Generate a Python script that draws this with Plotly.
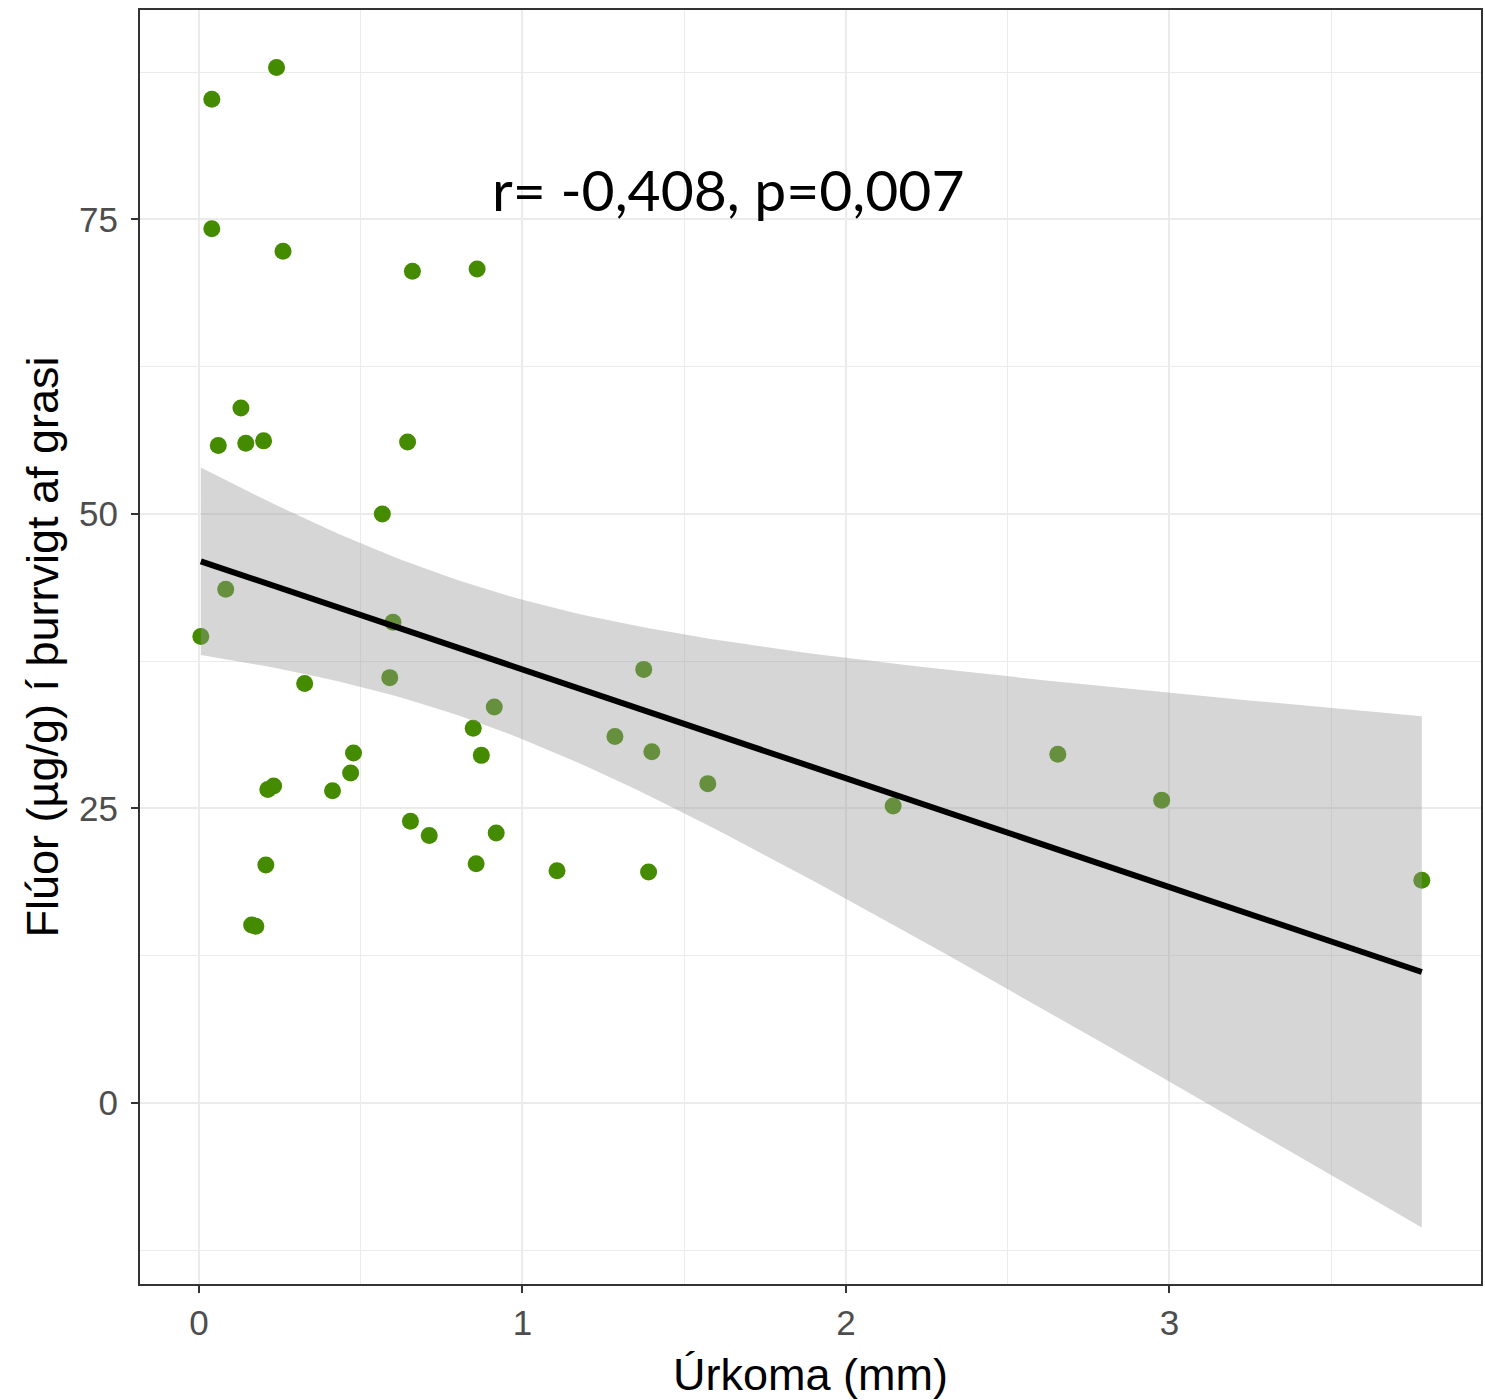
import numpy as np
import plotly.graph_objects as go

# Data
rain_mm = [0.04, 0.24, 0.04, 0.26, 0.66, 0.86, 0.13, 0.06, 0.145, 0.20, 0.645,
           0.567, 0.083, 0.006, 0.60, 0.59, 0.327, 1.375, 0.913, 0.848, 1.286,
           1.40, 0.478, 0.873, 0.469, 2.655, 1.573, 0.231, 0.213, 0.413, 2.146,
           2.976, 0.654, 0.712, 0.919, 0.207, 0.857, 1.107, 1.39, 3.78, 0.163, 0.176]
fluor_ug_g = [85.2, 87.9, 74.2, 72.3, 70.6, 70.8, 59.0, 55.8, 56.0, 56.2, 56.1,
              50.0, 43.6, 39.6, 40.8, 36.1, 35.6, 36.8, 33.6, 31.8, 31.1,
              29.8, 29.7, 29.5, 28.0, 29.6, 27.1, 26.9, 26.6, 26.5, 25.2,
              25.7, 23.9, 22.7, 22.9, 20.2, 20.3, 19.7, 19.6, 18.9, 15.1, 15.0]
x_ticks = [0, 1, 2, 3]
y_ticks = [0, 25, 50, 75]
annotation_text = "r= -0,408, p=0,007"
x_title = "Úrkoma (mm)"
y_title = "Flúor (µg/g) í þurrvigt af grasi"

# Linear model fit with 95% confidence band (as geom_smooth(method="lm"))
x = np.array(rain_mm)
y = np.array(fluor_ug_g)
n = len(x)
slope, intercept = np.polyfit(x, y, 1)
resid = y - (intercept + slope * x)
s = np.sqrt((resid ** 2).sum() / (n - 2))
xbar = x.mean()
sxx = ((x - xbar) ** 2).sum()
xg = np.linspace(x.min(), x.max(), 80)
yg = intercept + slope * xg
t_crit = 2.021
half = t_crit * s * np.sqrt(1 / n + (xg - xbar) ** 2 / sxx)

fig = go.Figure()
fig.add_trace(go.Scatter(
    x=rain_mm, y=fluor_ug_g, mode="markers",
    marker=dict(color="#458B00", size=17, line=dict(width=0)),
    showlegend=False, hoverinfo="x+y"))
fig.add_trace(go.Scatter(
    x=np.concatenate([xg, xg[::-1]]),
    y=np.concatenate([yg + half, (yg - half)[::-1]]),
    fill="toself", fillcolor="rgba(153,153,153,0.4)", line=dict(width=0),
    mode="lines", showlegend=False, hoverinfo="skip"))
fig.add_trace(go.Scatter(
    x=xg, y=yg, mode="lines", line=dict(color="black", width=6),
    showlegend=False, hoverinfo="skip"))

axis_common = dict(
    showline=True, mirror=True, linecolor="#333333", linewidth=2,
    ticks="outside", ticklen=7, tickwidth=2, tickcolor="#333333",
    showgrid=True, gridcolor="#EBEBEB", gridwidth=2, zeroline=False,
    tickfont=dict(family="Liberation Sans, Arial, sans-serif", size=35, color="#4D4D4D"),
)

fig.update_xaxes(
    **axis_common, range=[-0.182, 3.963], tickvals=x_ticks,
    ticktext=[str(v) for v in x_ticks],
    minor=dict(dtick=0.5, tick0=0.5, showgrid=True, gridcolor="#EBEBEB", gridwidth=1, ticks=""),
    title=dict(text=x_title, font=dict(family="Liberation Sans, Arial, sans-serif", size=45, color="black"), standoff=20),
    ticklabelstandoff=0,
)
fig.update_yaxes(
    **axis_common, range=[-15.38, 92.78], tickvals=y_ticks,
    ticktext=[str(v) for v in y_ticks],
    minor=dict(dtick=12.5, tick0=12.5, showgrid=True, gridcolor="#EBEBEB", gridwidth=1, ticks=""),
    title=dict(text=y_title, font=dict(family="Liberation Sans, Arial, sans-serif", size=45, color="black"), standoff=6),
    ticklabelstandoff=6,
)

fig.add_annotation(
    x=1.635, y=77.6, xref="x", yref="y", text=annotation_text, showarrow=False,
    font=dict(family="Lato, Carlito, sans-serif", size=57, color="black"),
    xanchor="center", yanchor="middle")

fig.update_layout(
    width=1485, height=1400,
    margin=dict(l=140, r=2, t=10, b=116),
    plot_bgcolor="white", paper_bgcolor="white",
)

fig.write_html("out.html")
